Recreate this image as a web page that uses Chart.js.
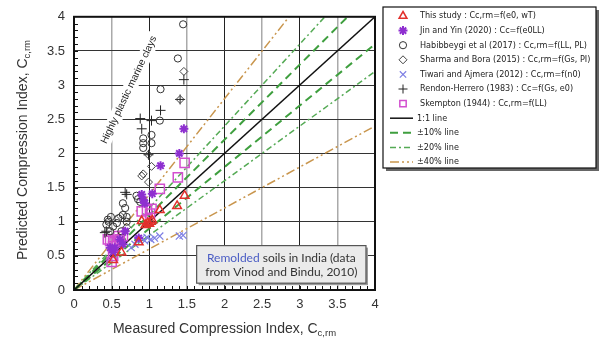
<!DOCTYPE html>
<html>
<head>
<meta charset="utf-8">
<script src="https://cdn.jsdelivr.net/npm/chart.js@4.4.0/dist/chart.umd.min.js"></script>
<style>
  html, body { margin: 0; padding: 0; background: #fff; }
</style>
</head>
<body>
<canvas id="cc" width="601" height="344"></canvas>
<script>
  // measured (x) / predicted (y) compression index per source
  const thisStudyMeasured  = [0.52, 0.63, 0.86, 0.90, 0.95, 0.98, 1.00, 1.02, 1.04, 1.14, 1.37, 1.47];
  const thisStudyPredicted = [0.44, 0.55, 0.70, 1.01, 0.95, 0.98, 0.97, 1.00, 1.02, 1.17, 1.23, 1.38];

  const jinMeasured  = [0.48, 0.52, 0.54, 0.61, 0.65, 0.68, 0.86, 0.90, 0.92, 0.94, 1.04, 1.15, 1.40, 1.46];
  const jinPredicted = [0.62, 0.55, 0.62, 0.74, 0.67, 0.86, 0.76, 1.40, 1.32, 1.27, 1.41, 1.82, 2.00, 2.36];

  const habibMeasured  = [0.43, 0.45, 0.46, 0.48, 0.49, 0.52, 0.57, 0.59, 0.63, 0.65, 0.65, 0.68, 0.70, 0.70, 0.83, 0.85, 0.88, 0.92, 0.92, 0.92, 1.03, 1.03, 1.14, 1.15, 1.38, 1.45];
  const habibPredicted = [0.96, 1.03, 1.00, 0.86, 1.07, 0.93, 0.98, 1.05, 0.86, 1.10, 1.27, 1.20, 1.07, 1.00, 1.38, 1.33, 1.29, 2.22, 2.15, 2.08, 2.27, 2.15, 2.48, 2.94, 3.39, 3.89];

  const sharmaMeasured  = [0.62, 0.70, 0.90, 0.92, 0.99, 0.99, 1.03, 1.41, 1.46];
  const sharmaPredicted = [1.08, 0.92, 1.67, 1.70, 1.58, 1.98, 1.81, 2.79, 3.20];

  const tiwariMeasured  = [0.76, 0.81, 0.85, 0.90, 0.94, 0.97, 1.02, 1.07, 1.14, 1.40, 1.45];
  const tiwariPredicted = [0.62, 0.67, 0.74, 0.76, 0.72, 0.77, 0.74, 0.76, 0.79, 0.79, 0.80];

  const rendonMeasured  = [0.41, 0.43, 0.68, 0.70, 0.88, 0.90, 0.99, 1.03, 1.15, 1.41, 1.46];
  const rendonPredicted = [0.84, 0.86, 1.43, 1.40, 2.51, 2.36, 1.98, 2.48, 2.63, 2.79, 3.08];

  const skemptonMeasured  = [0.45, 0.48, 0.50, 0.52, 0.52, 0.52, 0.54, 0.59, 0.61, 0.65, 0.90, 0.97, 1.01, 1.03, 1.14, 1.38, 1.47];
  const skemptonPredicted = [0.74, 0.72, 0.41, 0.50, 0.64, 0.72, 0.70, 0.79, 0.74, 0.79, 1.15, 1.17, 1.12, 1.19, 1.48, 1.65, 1.86];

  // reference lines y = k * x
  const lineRatios = [1.0, 1.1, 0.9, 1.2, 0.8, 1.4, 0.6];
  const axisTicks = [0, 0.5, 1, 1.5, 2, 2.5, 3, 3.5, 4];

  const pairs = (xs, ys) => xs.map((x, i) => ({ x, y: ys[i] }));
  const ratioLine = k => [{ x: 0, y: 0 }, { x: 4, y: 4 * k }];

  function pointSet(label, xs, ys, style, color, radius, width) {
    return {
      label, data: pairs(xs, ys), pointStyle: style, pointRadius: radius,
      pointHoverRadius: radius, borderColor: color, backgroundColor: 'rgba(0,0,0,0)',
      pointBorderWidth: width, borderWidth: width, showLine: false
    };
  }
  function lineSet(label, k, color, dash, width, inLegend) {
    return {
      label, data: ratioLine(k), showLine: true, pointRadius: 0, borderColor: color,
      borderDash: dash, borderWidth: width, inLegend, fill: false
    };
  }

  const GREEN = '#3f9f3f';
  const ORANGE = '#c9964e';

  const datasets = [
    pointSet('This study : Cc,rm=f(e0, wT)', thisStudyMeasured, thisStudyPredicted, 'triangle', '#e2302c', 5, 1.5),
    pointSet('Jin and Yin (2020) : Cc=f(e0LL)', jinMeasured, jinPredicted, 'star', '#8e2fd0', 4.5, 2),
    pointSet('Habibbeygi et al (2017) : Cc,rm=f(LL, PL)', habibMeasured, habibPredicted, 'circle', '#333', 3.6, 1),
    pointSet('Sharma and Bora (2015) : Cc,rm=f(Gs, PI)', sharmaMeasured, sharmaPredicted, 'rectRot', '#444', 4, 1),
    pointSet('Tiwari and Ajmera (2012) : Cc,rm=f(n0)', tiwariMeasured, tiwariPredicted, 'crossRot', '#7f80e4', 5, 1.2),
    pointSet('Rendon-Herrero (1983) : Cc=f(Gs, e0)', rendonMeasured, rendonPredicted, 'cross', '#222', 5, 1),
    pointSet('Skempton (1944) : Cc,rm=f(LL)', skemptonMeasured, skemptonPredicted, 'rect', '#d24fcf', 6.5, 1.5),
    lineSet('1:1 line', lineRatios[0], '#111', [], 1.5, true),
    lineSet('\u00b110% line', lineRatios[1], GREEN, [8, 5], 2, true),
    lineSet('\u00b110% line', lineRatios[2], GREEN, [8, 5], 2, false),
    lineSet('\u00b120% line', lineRatios[3], '#55aa55', [6, 3, 2, 3], 1.5, true),
    lineSet('\u00b120% line', lineRatios[4], '#55aa55', [6, 3, 2, 3], 1.5, false),
    lineSet('\u00b140% line', lineRatios[5], ORANGE, [9, 3, 2, 3, 2, 3], 1.5, true),
    lineSet('\u00b140% line', lineRatios[6], ORANGE, [9, 3, 2, 3, 2, 3], 1.5, false)
  ];

  const decor = {
    id: 'decor',
    beforeDatasetsDraw(chart) {
      const { ctx, chartArea: a, scales: { x, y } } = chart;
      ctx.save();
      // minor ticks along bottom and left edges
      ctx.strokeStyle = '#111';
      ctx.lineWidth = 1;
      ctx.beginPath();
      for (let i = 1; i < 40; i++) {
        const px = Math.round(x.getPixelForValue(i / 10)) + 0.5;
        ctx.moveTo(px, a.bottom); ctx.lineTo(px, a.bottom - 4);
        const py = Math.round(y.getPixelForValue(i / 10)) + 0.5;
        ctx.moveTo(a.left, py); ctx.lineTo(a.left + 4, py);
      }
      ctx.stroke();

      // rotated note over the high-plasticity points
      const cx = x.getPixelForValue(0.73), cy = y.getPixelForValue(2.93);
      ctx.translate(cx, cy);
      ctx.rotate(-64.6 * Math.PI / 180);
      ctx.font = '10px "Liberation Sans", sans-serif';
      const txt = 'Highly plastic marine clays';
      const w = ctx.measureText(txt).width;
      ctx.fillStyle = '#fff';
      ctx.fillRect(-w / 2 - 3, -7, w + 6, 14);
      ctx.fillStyle = '#222';
      ctx.textAlign = 'center';
      ctx.textBaseline = 'middle';
      ctx.fillText(txt, 0, 0);
      ctx.restore();
    },
    afterDatasetsDraw(chart) {
      const { ctx, chartArea: a, scales: { x, y } } = chart;
      ctx.save();
      // data-source note box
      const bx = x.getPixelForValue(1.63), by = y.getPixelForValue(0.65);
      const bw = x.getPixelForValue(3.88) - bx, bh = y.getPixelForValue(0.1) - by;
      ctx.fillStyle = '#9a9a9a';
      ctx.fillRect(bx + 2, by + 2, bw, bh);
      ctx.fillStyle = '#ebebeb';
      ctx.fillRect(bx, by, bw, bh);
      ctx.strokeStyle = '#555';
      ctx.lineWidth = 1.2;
      ctx.strokeRect(bx, by, bw, bh);
      ctx.font = '12px Lato, "Open Sans", sans-serif';
      ctx.textBaseline = 'middle';
      const first = 'Remolded';
      const rest = ' soils in India (data';
      const line2 = 'from Vinod and Bindu, 2010)';
      const w1 = ctx.measureText(first + rest).width;
      const tx = bx + (bw - w1) / 2;
      ctx.fillStyle = '#4a5cc4';
      ctx.fillText(first, tx, by + bh * 0.32);
      ctx.fillStyle = '#333';
      ctx.fillText(rest, tx + ctx.measureText(first).width, by + bh * 0.32);
      ctx.textAlign = 'center';
      ctx.fillText(line2, bx + bw / 2, by + bh * 0.71);

      // plot frame
      ctx.strokeStyle = '#111';
      ctx.lineWidth = 2;
      ctx.strokeRect(a.left, a.top, a.right - a.left, a.bottom - a.top);
      ctx.restore();
    },
    afterDraw(chart) {
      const { ctx, chartArea: a } = chart;
      ctx.save();
      // axis titles with subscript
      const titleFont = '14px "Liberation Sans", Arial, sans-serif';
      const subFont = '9.5px "Liberation Sans", Arial, sans-serif';
      function title(main, sub) {
        ctx.font = titleFont;
        const wm = ctx.measureText(main).width;
        ctx.font = subFont;
        const ws = ctx.measureText(sub).width;
        let sx = -(wm + ws) / 2;
        ctx.fillStyle = '#333';
        ctx.textBaseline = 'alphabetic';
        ctx.font = titleFont;
        ctx.fillText(main, sx, 5);
        ctx.font = subFont;
        ctx.fillText(sub, sx + wm, 8);
      }
      ctx.save();
      ctx.translate((a.left + a.right) / 2, 328);
      title('Measured Compression Index, C', 'c,rm');
      ctx.restore();
      ctx.save();
      ctx.translate(22, 150);
      ctx.rotate(-Math.PI / 2);
      title('Predicted Compression Index, C', 'c,rm');
      ctx.restore();

      // legend
      const lx = 383, ly = 7, lw = 213, lh = 161;
      ctx.fillStyle = '#666';
      ctx.fillRect(lx + 3, ly + 3, lw, lh);
      ctx.fillStyle = '#fff';
      ctx.fillRect(lx, ly, lw, lh);
      ctx.strokeStyle = '#111';
      ctx.lineWidth = 1.2;
      ctx.strokeRect(lx, ly, lw, lh);
      ctx.font = '9px "Liberation Sans Narrow", "DejaVu Sans Condensed", sans-serif';
      ctx.textBaseline = 'middle';
      let row = 0;
      chart.data.datasets.forEach(ds => {
        if (ds.inLegend === false) return;
        const ry = 16 + row * 14.6;
        ctx.strokeStyle = ds.borderColor;
        ctx.fillStyle = 'rgba(0,0,0,0)';
        if (ds.showLine) {
          ctx.lineWidth = ds.borderWidth;
          ctx.setLineDash(ds.borderDash);
          ctx.beginPath();
          ctx.moveTo(390, ry); ctx.lineTo(413, ry);
          ctx.stroke();
          ctx.setLineDash([]);
        } else {
          ctx.lineWidth = ds.pointBorderWidth;
          Chart.helpers.drawPoint(ctx, {
            pointStyle: ds.pointStyle, radius: Math.min(ds.pointRadius, 4.5),
            rotation: 0, borderWidth: ds.pointBorderWidth
          }, 403, ry);
        }
        ctx.fillStyle = '#222';
        ctx.fillText(ds.label, ds.showLine ? 417 : 420, ry);
        row++;
      });
      ctx.restore();
    }
  };

  const gridColor = c => (c.tick && c.tick.value % 1 === 0) ? '#222' : '#aaa';
  const tickFont = { size: 13, family: '"Liberation Sans", Arial, sans-serif' };

  new Chart(document.getElementById('cc'), {
    type: 'scatter',
    data: { datasets },
    options: {
      responsive: false,
      animation: false,
      devicePixelRatio: 1,
      layout: { padding: { top: 10, right: 226, left: 0, bottom: 0 } },
      plugins: { legend: { display: false }, tooltip: { enabled: false } },
      scales: {
        x: {
          type: 'linear', min: 0, max: 4,
          afterBuildTicks: s => { s.ticks = axisTicks.map(v => ({ value: v })); },
          afterFit: s => { s.height = 54; },
          ticks: { color: '#333', padding: 7, font: tickFont, callback: v => String(v) },
          grid: { color: gridColor, lineWidth: c => (c.tick && c.tick.value % 1 !== 0) ? 1.5 : 1, drawTicks: false },
          border: { display: false }
        },
        y: {
          type: 'linear', min: 0, max: 4,
          afterBuildTicks: s => { s.ticks = axisTicks.map(v => ({ value: v })); },
          afterFit: s => { s.width = 74; },
          ticks: { color: '#333', padding: 9, font: tickFont, callback: v => String(v) },
          grid: { color: '#333', lineWidth: 1, drawTicks: false },
          border: { display: false }
        }
      }
    },
    plugins: [decor]
  });
</script>
</body>
</html>
